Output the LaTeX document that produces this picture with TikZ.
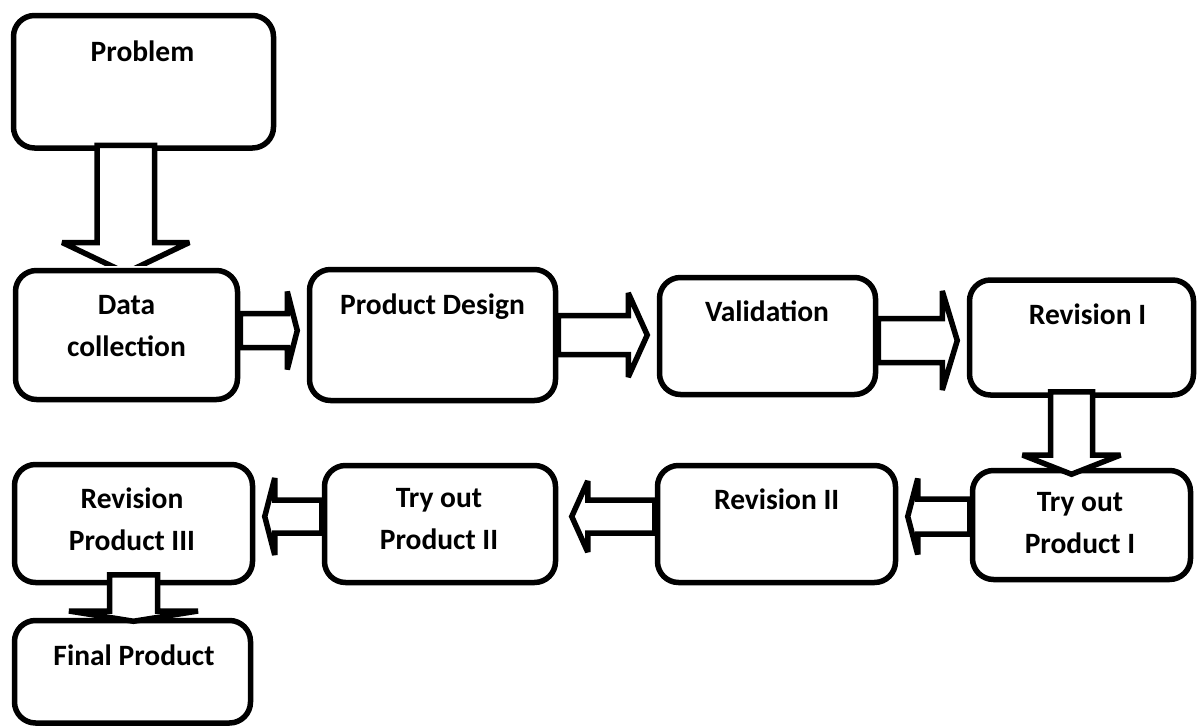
\documentclass[tikz,border=0pt]{standalone}
\usepackage{fontspec}
\setmainfont{Carlito}
\usetikzlibrary{calc}
\tikzset{
  box/.style={draw=black, line width=5.5pt, rounded corners=21pt, fill=white, inner sep=0pt},
  lbl/.style={font=\bfseries\fontsize{29.5}{42}\selectfont, align=center, anchor=base, inner sep=0pt},
  blk/.style={draw=black, line width=5.5pt, fill=white, line join=miter, miter limit=4.1},
}
% right-pointing block arrow: from, to, yc, shaft half, head half, head length, tip gap
\newcommand\rblock[7]{%
  \draw[blk] let \p1=(#1.east), \p2=(#2.west) in
    (\x1,{-(#3-#4)*1pt}) -- ({\x2-(#7+#6)*1pt},{-(#3-#4)*1pt})
    -- ({\x2-(#7+#6)*1pt},{-(#3-#5)*1pt}) -- ({\x2-#7*1pt},{-#3*1pt})
    -- ({\x2-(#7+#6)*1pt},{-(#3+#5)*1pt}) -- ({\x2-(#7+#6)*1pt},{-(#3+#4)*1pt})
    -- (\x1,{-(#3+#4)*1pt}) -- cycle;}
% left-pointing block arrow
\newcommand\lblock[7]{%
  \draw[blk] let \p1=(#1.west), \p2=(#2.east) in
    (\x1,{-(#3-#4)*1pt}) -- ({\x2+(#7+#6)*1pt},{-(#3-#4)*1pt})
    -- ({\x2+(#7+#6)*1pt},{-(#3-#5)*1pt}) -- ({\x2+#7*1pt},{-#3*1pt})
    -- ({\x2+(#7+#6)*1pt},{-(#3+#5)*1pt}) -- ({\x2+(#7+#6)*1pt},{-(#3+#4)*1pt})
    -- (\x1,{-(#3+#4)*1pt}) -- cycle;}
% down-pointing block arrow: from, to, xc, shaft half, head half, wing y, shaft inset, tip offset
\newcommand\dblock[8]{%
  \draw[blk] let \p1=(#1.south), \p2=(#2.north) in
    ({(#3-#4)*1pt},{\y1+#7*1pt}) -- ({(#3-#4)*1pt},{-#6*1pt})
    -- ({(#3-#5)*1pt},{-#6*1pt}) -- ({#3*1pt},{\y2-#8*1pt})
    -- ({(#3+#5)*1pt},{-#6*1pt}) -- ({(#3+#4)*1pt},{-#6*1pt})
    -- ({(#3+#4)*1pt},{\y1+#7*1pt}) -- cycle;}
\begin{document}
\begin{tikzpicture}[x=1pt,y=-1pt]
\useasboundingbox (0,0) rectangle (1200,726);
% boxes
\node[box, minimum width=260pt, minimum height=132.5pt] (prob)  at (143.5,81.75) {};
\node[box, minimum width=222pt, minimum height=129pt]   (data)  at (126.5,335) {};
\node[box, minimum width=246pt, minimum height=131pt]   (pd)    at (432.5,335) {};
\node[box, minimum width=216pt, minimum height=117pt]   (val)   at (767.5,336) {};
\node[box, minimum width=224pt, minimum height=115pt]   (rev1)  at (1081.5,337.5) {};
\node[box, minimum width=218pt, minimum height=109pt]   (try1)  at (1081.5,525) {};
\node[box, minimum width=238pt, minimum height=117pt]   (rev2)  at (776.5,524) {};
\node[box, minimum width=231pt, minimum height=117pt]   (try2)  at (440,524) {};
\node[box, minimum width=238pt, minimum height=118pt]   (rev3)  at (133.5,523.5) {};
\node[box, minimum width=236pt, minimum height=102.5pt] (final) at (132.5,671.75) {};
% labels (base = baseline of last line)
\node[lbl] (prob-t)  at (142.5,61.5) {Problem};
\node[lbl] (data-t)  at (126.5,356) {Data\\collection};
\node[lbl] (pd-t)    at (432.5,314) {Product Design};
\node[lbl] (val-t)   at (767,321) {Validation};
\node[lbl] (rev1-t)  at (1087.5,324) {Revision I};
\node[lbl] (try1-t)  at (1080,553) {Try out\\Product I};
\node[lbl] (rev2-t)  at (776.7,509) {Revision II};
\node[lbl] (try2-t)  at (439,549) {Try out\\Product II};
\node[lbl] (rev3-t)  at (132,550) {Revision\\Product III};
\node[lbl] (final-t) at (134,665) {Final Product};
% horizontal block arrows
\rblock{data}{pd}{330.5}{17}{39}{10}{9.5}
\rblock{pd}{val}{335}{19.5}{42}{19}{9.5}
\rblock{val}{rev1}{340.5}{22}{49.5}{15}{9.5}
\lblock{try1}{rev2}{516.5}{17.5}{38}{10}{9.5}
\lblock{rev2}{try2}{516.5}{16.5}{35.5}{16}{13.5}
\lblock{try2}{rev3}{516.5}{16.5}{38.5}{10}{9.5}
% down block arrows
\begin{scope}
  \clip let \p1=(data.north) in (0pt,{\y1+2.75pt}) rectangle (1200pt,0pt);
  \dblock{prob}{data}{125.75}{28.75}{63.5}{242.5}{5.5}{5}
\end{scope}
\dblock{rev1}{try1}{1071.5}{21}{49}{455}{6}{6.5}
\dblock{rev3}{final}{133.5}{24}{64.5}{611}{10.5}{3.5}
\end{tikzpicture}
\end{document}
